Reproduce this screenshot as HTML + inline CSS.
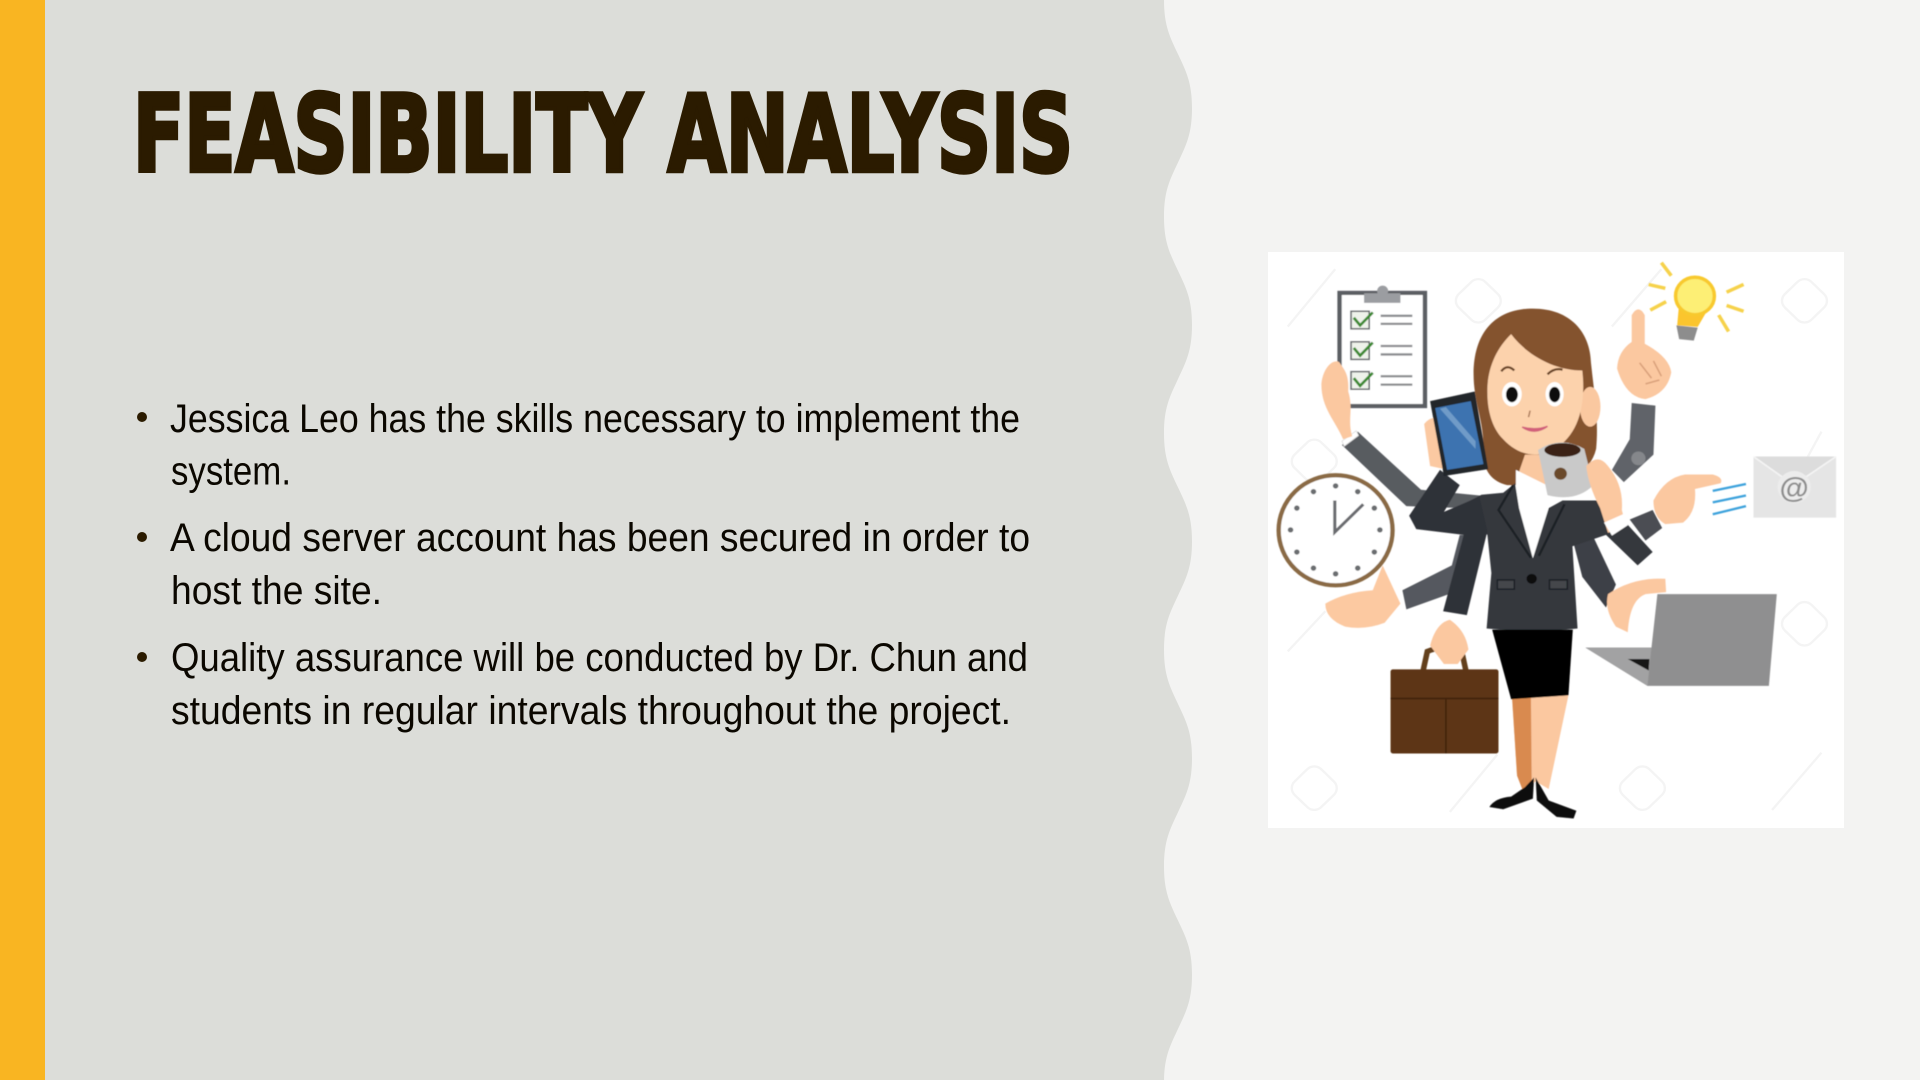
<!DOCTYPE html>
<html lang="en">
<head>
<meta charset="utf-8">
<title>Feasibility Analysis</title>
<style>
html,body{margin:0;padding:0;width:1920px;height:1080px;overflow:hidden;background:#f3f3f2}
svg{display:block}
.b{font-family:"Liberation Sans",sans-serif;font-size:40px;fill:#0b0700}
</style>
</head>
<body>
<svg width="1920" height="1080" viewBox="0 0 1920 1080">
<defs><filter id="soft" x="-5%" y="-5%" width="110%" height="110%"><feGaussianBlur stdDeviation="1.6"/></filter></defs>
<rect width="1920" height="1080" fill="#f3f3f2"/>
<path fill="#dcddd9" d="M0 0H1164c0,26 6,37 14,54.15c8,17.15 14,28 14,54.15c0,26 -6,37 -14,54.15c-8,17.15 -14,28 -14,54.15c0,26 6,37 14,54.15c8,17.15 14,28 14,54.15c0,26 -6,37 -14,54.15c-8,17.15 -14,28 -14,54.15c0,26 6,37 14,54.15c8,17.15 14,28 14,54.15c0,26 -6,37 -14,54.15c-8,17.15 -14,28 -14,54.15c0,26 6,37 14,54.15c8,17.15 14,28 14,54.15c0,26 -6,37 -14,54.15c-8,17.15 -14,28 -14,54.15c0,26 6,37 14,54.15c8,17.15 14,28 14,54.15c0,26 -6,37 -14,54.15c-8,17.15 -14,28 -14,54.15V1080H0Z"/>
<rect width="45" height="1080" fill="#f9b522"/>

<text x="133" y="171" textLength="940" lengthAdjust="spacingAndGlyphs" font-family="'DejaVu Sans','Liberation Sans',sans-serif" font-weight="700" font-size="106" fill="#2b1b00" stroke="#2b1b00" stroke-width="4.5" stroke-linejoin="miter">FEASIBILITY ANALYSIS</text>

<g>
<circle cx="142" cy="417" r="5" fill="#2b1b00"/>
<text class="b" x="170" y="432" textLength="850" lengthAdjust="spacingAndGlyphs">Jessica Leo has the skills necessary to implement the</text>
<text class="b" x="171" y="484.5" textLength="120" lengthAdjust="spacingAndGlyphs">system.</text>
<circle cx="142" cy="537" r="5" fill="#2b1b00"/>
<text class="b" x="170" y="551" textLength="860" lengthAdjust="spacingAndGlyphs">A cloud server account has been secured in order to</text>
<text class="b" x="171" y="604" textLength="211" lengthAdjust="spacingAndGlyphs">host the site.</text>
<circle cx="142" cy="657" r="5" fill="#2b1b00"/>
<text class="b" x="171" y="671" textLength="857" lengthAdjust="spacingAndGlyphs">Quality assurance will be conducted by Dr. Chun and</text>
<text class="b" x="171" y="724" textLength="840" lengthAdjust="spacingAndGlyphs">students in regular intervals throughout the project.</text>
</g>

<svg x="1268" y="252" width="576" height="576" viewBox="45 30 1457 1507" preserveAspectRatio="none">
<rect x="45" y="30" width="1457" height="1507" fill="#fff"/>
<g fill="none" stroke="#f4f4f4" stroke-width="6">
<rect x="530" y="110" width="95" height="95" rx="25" transform="rotate(45 577 157)"/>
<rect x="1355" y="110" width="95" height="95" rx="25" transform="rotate(45 1402 157)"/>
<rect x="115" y="530" width="95" height="95" rx="25" transform="rotate(45 162 577)"/>
<rect x="1355" y="955" width="95" height="95" rx="25" transform="rotate(45 1402 1002)"/>
<rect x="115" y="1385" width="95" height="95" rx="25" transform="rotate(45 162 1432)"/>
<rect x="945" y="1385" width="95" height="95" rx="25" transform="rotate(45 992 1432)"/>
<path d="M95 225L215 75M915 225L1040 75M1320 1490L1445 1340M505 1495L625 1345M95 1075L190 970M1340 700L1445 500"/>
</g>
<g filter="url(#soft)">
<g>
<rect x="226" y="137" width="216" height="296" fill="#fff" stroke="#5b5e64" stroke-width="11"/>
<path d="M288 138H380V163H288Z" fill="#9b9da1"/><circle cx="335" cy="132" r="14" fill="#9b9da1"/>
<g fill="#eef2ea" stroke="#63666a" stroke-width="4"><rect x="255" y="185" width="46" height="46"/><rect x="255" y="265" width="46" height="46"/><rect x="255" y="343" width="46" height="46"/></g>
<g fill="none" stroke="#3c8a33" stroke-width="7"><path d="M262 202L278 222L310 188M262 281L278 301L310 267M262 360L278 380L310 346"/></g>
<g stroke="#8b8d90" stroke-width="6"><path d="M330 197H410M330 218H410M330 276H410M330 298H410M330 355H410M330 377H410"/></g>
</g>
<path d="M232 535L272 500L432 652L590 668L590 702L395 695Z" fill="#585b61"/>
<path d="M232 525L268 498L274 510L238 538Z" fill="#fff" stroke="#ddd" stroke-width="2"/>
<path d="M385 915L510 850L530 770L580 770L530 915L395 965Z" fill="#55585e"/>
<path d="M965 425L1025 432L1020 560L945 632L915 600L960 520Z" fill="#606369"/>
<circle cx="982" cy="570" r="18" fill="#85878b"/>
<path d="M960 730L1018 705L1042 752L1000 785Z" fill="#4b4e53"/>
<path d="M815 780L870 780L925 900L900 960L840 880Z" fill="#3e4146"/>
<path d="M565 350C565 240 620 178 715 178C810 178 860 240 862 320C870 400 882 470 875 545C860 610 800 630 760 640L650 640C610 630 585 600 590 540C590 470 565 420 565 350Z" fill="#84532f"/>
<path d="M695 560H745L750 640L715 680L675 620Z" fill="#fac8a0"/>
<path d="M672 600L750 640L755 740L712 835L672 700Z" fill="#fff"/>
<path d="M670 635L640 660L585 665L520 700L600 770L610 870L598 1015L720 1025L828 1015L815 800L900 770L980 850L1018 815L925 710L880 680L790 680L755 700L715 832L680 700Z" fill="#34373c"/>
<path d="M480 600L530 640L490 710L580 670L600 760L548 980L488 970L540 770L420 755L402 720Z" fill="#2f3237"/>
<path d="M665 640L628 705L710 830M795 690L730 825" fill="none" stroke="#1f2125" stroke-width="6"/>
<circle cx="712" cy="885" r="13" fill="#0c0d0f"/>
<path d="M625 888H668V912H625ZM757 888H802V912H757Z" fill="#44474c" stroke="#1f2125" stroke-width="4"/>
<ellipse cx="860" cy="435" rx="26" ry="52" fill="#fac8a0"/>
<path d="M600 400C598 340 620 285 660 245C700 300 770 340 840 340C850 430 830 510 770 545C730 570 680 565 640 520C610 490 600 440 600 400Z" fill="#fcd2ac"/>
<g><ellipse cx="662" cy="402" rx="25" ry="32" fill="#fff"/><ellipse cx="770" cy="402" rx="23" ry="32" fill="#fff"/><ellipse cx="662" cy="403" rx="15" ry="20" fill="#111"/><ellipse cx="770" cy="403" rx="14" ry="20" fill="#111"/></g>
<path d="M635 342Q650 322 668 340M752 350Q770 332 790 338" fill="none" stroke="#6a4527" stroke-width="6"/>
<path d="M708 445L704 462" stroke="#b07f5e" stroke-width="4" fill="none"/>
<path d="M688 488Q720 510 752 486Q722 498 688 488Z" fill="#d9607a" stroke="#d0607a" stroke-width="4"/>
<path d="M440 480Q460 455 480 470L500 600L455 590Z" fill="#fbc9a2"/>
<path d="M455 420L568 395L602 598L490 616Z" fill="#22252a"/>
<path d="M468 438L558 420L590 585L498 600Z" fill="#3d73b0"/>
<path d="M480 440L570 545L570 525L495 436Z" fill="#6f9bc8"/>
<path d="M180 375C185 330 210 310 225 318C240 340 250 350 248 395C262 440 245 470 258 512L235 520C215 470 180 440 180 375Z" fill="#fbc8a0"/>
<g>
<circle cx="216" cy="758" r="144" fill="#fff" stroke="#8a6a44" stroke-width="11"/>
<g fill="#6b6d70"><circle cx="216" cy="642" r="7"/><circle cx="216" cy="872" r="7"/><circle cx="102" cy="757" r="7"/><circle cx="328" cy="757" r="7"/><circle cx="160" cy="657" r="7"/><circle cx="272" cy="657" r="7"/><circle cx="118" cy="700" r="7"/><circle cx="314" cy="700" r="7"/><circle cx="118" cy="815" r="7"/><circle cx="314" cy="815" r="7"/><circle cx="160" cy="857" r="7"/><circle cx="272" cy="857" r="7"/></g>
<path d="M214 680V763L286 690" fill="none" stroke="#6a6c6f" stroke-width="8"/>
</g>
<path d="M335 850L380 950L340 1000Q290 1020 240 1010Q190 990 190 950Q240 920 310 915Z" fill="#fcc9a1"/>
<path d="M728 548Q785 510 845 545L868 640Q825 685 752 666Z" fill="#c9c9c9"/>
<ellipse cx="790" cy="548" rx="46" ry="18" fill="#3a2414"/>
<circle cx="785" cy="610" r="16" fill="#6a4a2c"/>
<path d="M850 590Q880 555 905 590Q945 640 940 705L950 745L905 765L885 700Q855 640 850 590Z" fill="#fbc8a0"/>
<path d="M895 738L945 715L955 745L915 772Z" fill="#fff"/>
<path d="M965 195Q982 165 998 195L998 270Q1060 305 1065 345Q1055 400 1000 415Q950 410 928 335Q930 290 965 265Z" fill="#fbc8a0"/>
<path d="M985 320L1015 360M1020 315L1040 355M1000 375L1035 365" stroke="#d9a07a" stroke-width="4" fill="none"/>
<g>
<path d="M1078 222L1132 228L1122 262L1085 258Z" fill="#8d8d8d"/>
<path d="M1085 165L1155 185L1132 226L1080 222Z" fill="#fbc52e"/>
<circle cx="1125" cy="145" r="49" fill="#fdef74" stroke="#f8c92f" stroke-width="9"/>
<path d="M1040 58L1065 92M1008 115L1050 125M1012 182L1052 160M1205 135L1248 115M1205 170L1248 185M1185 195L1210 238" stroke="#f6d24c" stroke-width="9" fill="none"/>
</g>
<path d="M1020 680Q1050 620 1100 612L1170 612Q1198 620 1190 635L1125 650Q1130 710 1095 738L1050 742Q1020 725 1020 680Z" fill="#fbc8a0"/>
<path d="M1170 655L1254 637M1170 685L1254 667M1170 716L1254 695" stroke="#3ca2dc" stroke-width="6" fill="none"/>
<g>
<rect x="1273" y="565" width="209" height="160" fill="#e5e5e5"/>
<path d="M1273 565L1375 640L1482 565" fill="#dcdcdc" stroke="#f5f5f5" stroke-width="4"/>
<circle cx="1376" cy="645" r="42" fill="#ececec"/>
<text x="1376" y="672" text-anchor="middle" font-family="'Liberation Sans',sans-serif" font-size="76" font-weight="700" fill="#8d8d8d">@</text>
</g>
<g>
<path d="M1030 925H1332L1312 1165H1005L848 1065H1015Z" fill="#8f8f90"/>
<path d="M848 1065H1015L1005 1165Z" fill="#a2a2a3"/>
<path d="M955 1095H1010L1008 1125Z" fill="#161616"/>
</g>
<path d="M905 925Q970 880 1050 885L1052 920L1000 925Q960 940 955 1025L925 1010Q895 965 905 925Z" fill="#fbc8a0"/>
<path d="M662 1190H805L755 1435L722 1415L690 1440L675 1400Z" fill="#fbc8a0"/>
<path d="M662 1190H710L712 1415L690 1440L675 1400Z" fill="#d98a50"/>
<path d="M612 1018H816L805 1190L660 1200Z" fill="#050505"/>
<path d="M695 1430L718 1405L715 1460L640 1488L605 1482Q620 1458 660 1455Z" fill="#0a0a0a"/>
<path d="M722 1405L755 1465L825 1492L818 1512L775 1508L725 1465Z" fill="#0a0a0a"/>
<path d="M428 1170L448 1075Q495 1055 535 1075L555 1170" stroke="#63401f" stroke-width="14" fill="none"/>
<path d="M455 1060Q470 1000 505 992Q545 1020 552 1070L525 1108H490Z" fill="#fbc8a0"/>
<rect x="355" y="1122" width="273" height="220" rx="6" fill="#5d3512"/>
<path d="M355 1198H628M495 1198V1342" stroke="#3f2209" stroke-width="4" fill="none"/>
</g>
</svg>
</svg>
</body>
</html>
